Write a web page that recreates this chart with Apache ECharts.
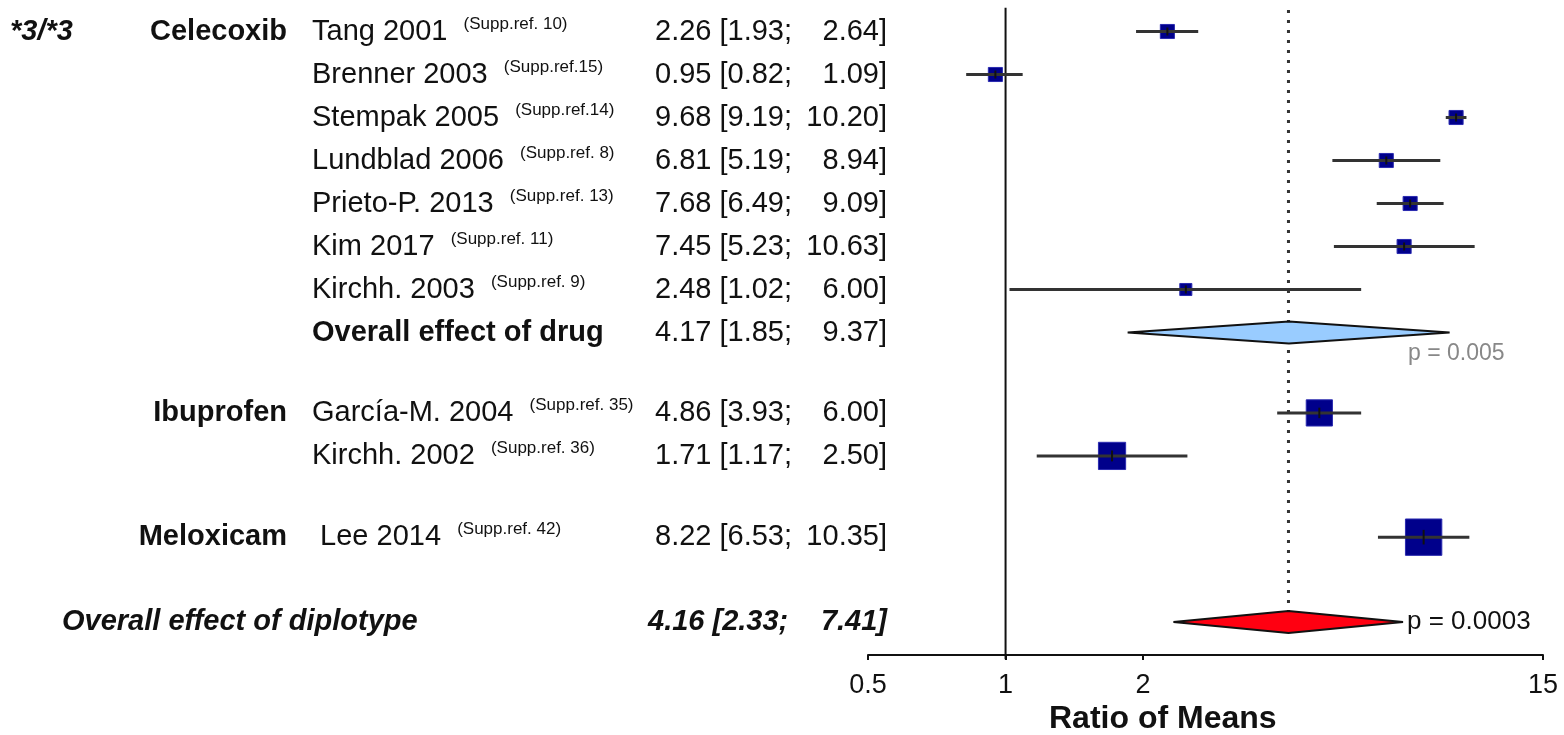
<!DOCTYPE html>
<html>
<head>
<meta charset="utf-8">
<script src="https://cdn.jsdelivr.net/npm/echarts@6/dist/echarts.min.js"></script>
<style>
  html, body { margin: 0; padding: 0; background: #fff; }
  #chart { width: 1564px; height: 735px; }
</style>
</head>
<body>
<div id="chart"></div>
<script>
// single studies
const diplotype = '*3/*3';
const studyNames = ['Tang 2001', 'Brenner 2003', 'Stempak 2005', 'Lundblad 2006', 'Prieto-P. 2013', 'Kim 2017', 'Kirchh. 2003', 'García-M. 2004', 'Kirchh. 2002', ' Lee 2014'];
const studyRefs = ['(Supp.ref. 10)', '(Supp.ref.15)', '(Supp.ref.14)', '(Supp.ref. 8)', '(Supp.ref. 13)', '(Supp.ref. 11)', '(Supp.ref. 9)', '(Supp.ref. 35)', '(Supp.ref. 36)', '(Supp.ref. 42)'];
const studyDrug = ['Celecoxib', 'Celecoxib', 'Celecoxib', 'Celecoxib', 'Celecoxib', 'Celecoxib', 'Celecoxib', 'Ibuprofen', 'Ibuprofen', 'Meloxicam'];
const est = [2.26, 0.95, 9.68, 6.81, 7.68, 7.45, 2.48, 4.86, 1.71, 8.22];
const lower = [1.93, 0.82, 9.19, 5.19, 6.49, 5.23, 1.02, 3.93, 1.17, 6.53];
const upper = [2.64, 1.09, 10.20, 8.94, 9.09, 10.63, 6.00, 6.00, 2.50, 10.35];
const weight = [1.5, 1.5, 1.5, 1.5, 1.5, 1.5, 1.1, 5.2, 5.6, 10];

// pooled effects
const pooledNames = ['Overall effect of drug', 'Overall effect of diplotype'];
const pooledEst = [4.17, 4.16];
const pooledLower = [1.85, 2.33];
const pooledUpper = [9.37, 7.41];
const pooledP = ['p = 0.005', 'p = 0.0003'];

const xTicks = [0.5, 1, 2, 15];

// layout: row slot of each line (y axis units)
const studyRow = [0, 1, 2, 3, 4, 5, 6, 8.87, 9.87, 11.76];
const pooledRow = [7, 13.73];

const FONT = '"Liberation Sans", Arial, Helvetica, sans-serif';
const lg = v => Math.log10(v);
const xMin = lg(0.5), xMax = lg(15);
const f2 = v => v.toFixed(2);

function txt(x, y, text, extra) {
  return {
    type: 'text', x: x, y: y,
    style: Object.assign({
      text: text, fontFamily: FONT, fontSize: 29, fill: '#111',
      align: 'left', verticalAlign: 'middle'
    }, extra || {})
  };
}

const studyData = est.map((v, i) => [lg(v), studyRow[i], lg(lower[i]), lg(upper[i]), 11.5 * Math.sqrt(weight[i])]);
const pooledData = pooledEst.map((v, i) => [lg(v), pooledRow[i], lg(pooledLower[i]), lg(pooledUpper[i])]);
const labelData = studyNames.map((_, i) => [xMin, studyRow[i], 0, i])
  .concat(pooledNames.map((_, j) => [xMin, pooledRow[j], 1, j]));

const chart = echarts.init(document.getElementById('chart'));
chart.setOption({
  animation: false,
  grid: { left: 868, right: 21, top: 10, bottom: 80, outerBoundsMode: 'none' },
  xAxis: {
    type: 'value', min: xMin, max: xMax, position: 'bottom',
    axisLine: { onZero: false, lineStyle: { color: '#111', width: 2 } },
    axisTick: { customValues: xTicks.map(lg), length: 5, lineStyle: { color: '#111', width: 2 } },
    axisLabel: {
      customValues: xTicks.map(lg), margin: 17,
      fontFamily: FONT, fontSize: 27, color: '#111',
      formatter: v => String(Math.round(Math.pow(10, v) * 10) / 10)
    },
    splitLine: { show: false }
  },
  yAxis: { type: 'value', inverse: true, min: -0.5, max: 14.5, show: false },
  graphic: [{
    type: 'text', left: 1049, top: 703,
    style: { text: 'Ratio of Means', fontFamily: FONT, fontSize: 32, fontWeight: 'bold', fill: '#111' }
  }],
  series: [
    {
      // line of no effect
      type: 'custom', z: 1,
      data: [[0, -0.55, 14.6]],
      encode: { x: 0, y: 1 },
      renderItem: (params, api) => {
        const a = api.coord([api.value(0), api.value(1)]);
        const b = api.coord([api.value(0), api.value(2)]);
        return { type: 'line', shape: { x1: a[0], y1: a[1], x2: b[0], y2: b[1] }, style: { stroke: '#111', lineWidth: 2 } };
      }
    },
    {
      // dotted line at overall diplotype effect
      type: 'custom', z: 1,
      data: [[lg(pooledEst[1]), -0.5, pooledRow[1]]],
      encode: { x: 0, y: 1 },
      renderItem: (params, api) => {
        const a = api.coord([api.value(0), api.value(1)]);
        const b = api.coord([api.value(0), api.value(2)]);
        return { type: 'line', shape: { x1: a[0], y1: a[1], x2: b[0], y2: b[1] - 11 }, style: { stroke: '#333', lineWidth: 3, lineDash: [3, 7] } };
      }
    },
    {
      // study boxes with CI
      type: 'custom', z: 3,
      data: studyData,
      encode: { x: 0, y: 1 },
      renderItem: (params, api) => {
        const c = api.coord([api.value(0), api.value(1)]);
        const l = api.coord([api.value(2), api.value(1)]);
        const h = api.coord([api.value(3), api.value(1)]);
        const s = api.value(4);
        const t = Math.max(4, s * 0.2);
        return {
          type: 'group',
          children: [
            { type: 'rect', shape: { x: c[0] - s / 2, y: c[1] - s / 2, width: s, height: s }, style: { fill: '#00008B', stroke: '#2a2ab0', lineWidth: 1 } },
            { type: 'line', shape: { x1: l[0], y1: c[1], x2: h[0], y2: c[1] }, style: { stroke: '#333', lineWidth: 3 } },
            { type: 'line', shape: { x1: c[0], y1: c[1] - t, x2: c[0], y2: c[1] + t }, style: { stroke: '#111', lineWidth: 2 } }
          ]
        };
      }
    },
    {
      // pooled diamonds
      type: 'custom', z: 3,
      data: pooledData,
      encode: { x: 0, y: 1 },
      renderItem: (params, api) => {
        const c = api.coord([api.value(0), api.value(1)]);
        const l = api.coord([api.value(2), api.value(1)]);
        const h = api.coord([api.value(3), api.value(1)]);
        const hh = 11;
        return {
          type: 'polygon',
          shape: { points: [[l[0], c[1]], [c[0], c[1] - hh], [h[0], c[1]], [c[0], c[1] + hh]] },
          style: { fill: params.dataIndex === 0 ? '#99CCFF' : '#FF0011', stroke: '#111', lineWidth: 2 }
        };
      }
    },
    {
      // text columns
      type: 'custom', z: 4,
      data: labelData,
      encode: { x: 0, y: 1 },
      renderItem: (params, api) => {
        const y = api.coord([xMin, api.value(1)])[1];
        const kind = api.value(2), i = api.value(3);
        const ch = [];
        if (kind === 0) {
          if (i === 0) ch.push(txt(10, y, diplotype, { fontWeight: 'bold', fontStyle: 'italic' }));
          if (i === 0 || studyDrug[i] !== studyDrug[i - 1]) ch.push(txt(287, y, studyDrug[i], { fontWeight: 'bold', align: 'right' }));
          ch.push(txt(312, y, '{n|' + studyNames[i] + '  }{s|' + studyRefs[i] + '}', {
            rich: {
              n: { fontFamily: FONT, fontSize: 29, lineHeight: 32, fill: '#111' },
              s: { fontFamily: FONT, fontSize: 17, lineHeight: 18, fill: '#111', verticalAlign: 'top' }
            }
          }));
          ch.push(txt(655, y, f2(est[i]) + ' [' + f2(lower[i]) + ';'));
          ch.push(txt(887, y, f2(upper[i]) + ']', { align: 'right' }));
        } else if (i === 0) {
          ch.push(txt(312, y, pooledNames[i], { fontWeight: 'bold' }));
          ch.push(txt(655, y, f2(pooledEst[i]) + ' [' + f2(pooledLower[i]) + ';'));
          ch.push(txt(887, y, f2(pooledUpper[i]) + ']', { align: 'right' }));
          ch.push(txt(1408, y + 21, pooledP[i], { fontSize: 23, fill: '#888' }));
        } else {
          const bi = { fontWeight: 'bold', fontStyle: 'italic' };
          ch.push(txt(62, y, pooledNames[i], bi));
          ch.push(txt(648, y, f2(pooledEst[i]) + ' [' + f2(pooledLower[i]) + ';', bi));
          ch.push(txt(887, y, f2(pooledUpper[i]) + ']', Object.assign({ align: 'right' }, bi)));
          ch.push(txt(1407, y, pooledP[i], { fontSize: 26 }));
        }
        return { type: 'group', children: ch };
      }
    }
  ]
});
</script>
</body>
</html>
